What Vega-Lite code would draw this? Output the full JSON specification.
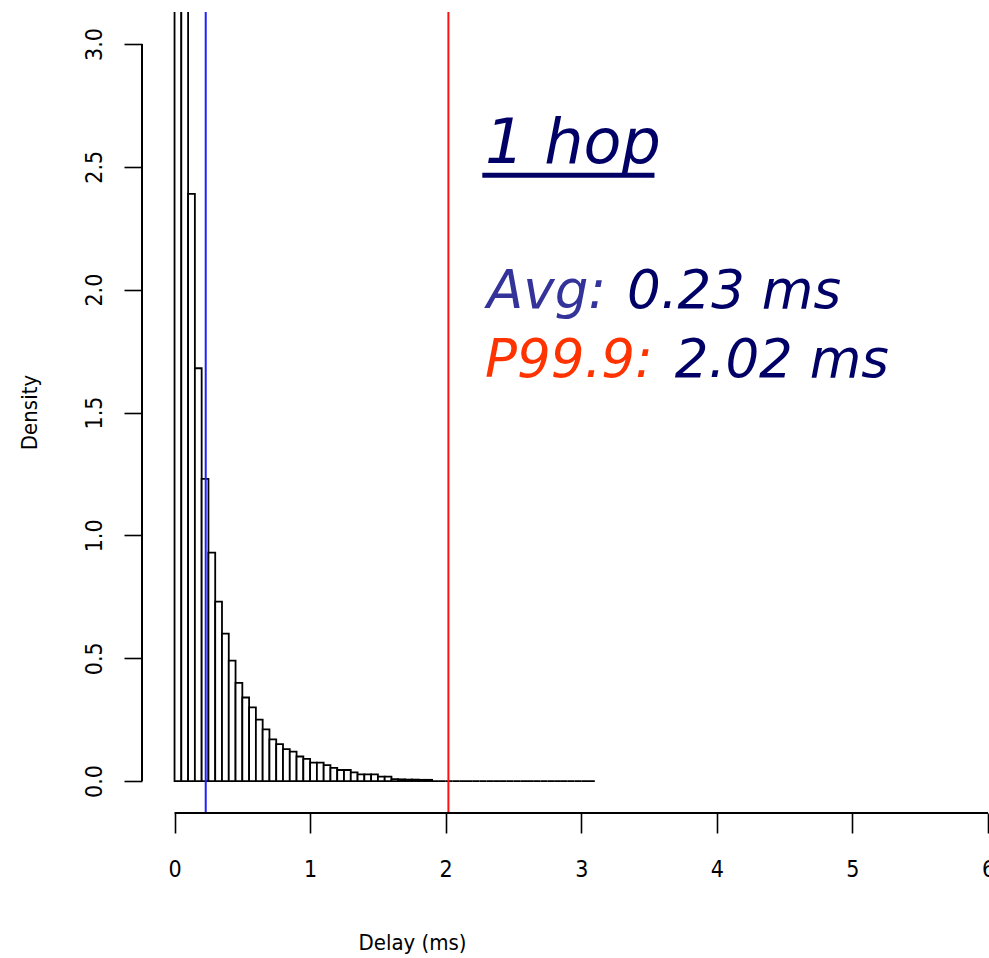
{
  "$schema": "https://vega.github.io/schema/vega-lite/v6.json",
  "autosize": "none",
  "width": 846,
  "height": 801,
  "padding": {"left": 142, "top": 12, "right": 1, "bottom": 145},
  "background": "white",
  "config": {
    "view": {"stroke": null},
    "axis": {
      "labelFont": "Liberation Sans Narrow, DejaVu Sans Condensed, Liberation Sans, sans-serif",
      "titleFont": "Liberation Sans Narrow, DejaVu Sans Condensed, Liberation Sans, sans-serif",
      "labelColor": "black",
      "titleColor": "black",
      "tickColor": "black",
      "labelFontSize": 23,
      "titleFontSize": 22,
      "titleFontWeight": "normal",
      "grid": false,
      "domain": false,
      "labelFlush": false,
      "labelOverlap": false,
      "tickWidth": 1.6
    }
  },
  "datasets": {
    "bins": [
      {"bin_start": 0.00, "bin_end": 0.05, "density": 5.0},
      {"bin_start": 0.05, "bin_end": 0.10, "density": 4.1},
      {"bin_start": 0.10, "bin_end": 0.15, "density": 2.39},
      {"bin_start": 0.15, "bin_end": 0.20, "density": 1.68},
      {"bin_start": 0.20, "bin_end": 0.25, "density": 1.23},
      {"bin_start": 0.25, "bin_end": 0.30, "density": 0.93},
      {"bin_start": 0.30, "bin_end": 0.35, "density": 0.73},
      {"bin_start": 0.35, "bin_end": 0.40, "density": 0.60},
      {"bin_start": 0.40, "bin_end": 0.45, "density": 0.49},
      {"bin_start": 0.45, "bin_end": 0.50, "density": 0.40},
      {"bin_start": 0.50, "bin_end": 0.55, "density": 0.34},
      {"bin_start": 0.55, "bin_end": 0.60, "density": 0.30},
      {"bin_start": 0.60, "bin_end": 0.65, "density": 0.25},
      {"bin_start": 0.65, "bin_end": 0.70, "density": 0.21},
      {"bin_start": 0.70, "bin_end": 0.75, "density": 0.17},
      {"bin_start": 0.75, "bin_end": 0.80, "density": 0.15},
      {"bin_start": 0.80, "bin_end": 0.85, "density": 0.13},
      {"bin_start": 0.85, "bin_end": 0.90, "density": 0.12},
      {"bin_start": 0.90, "bin_end": 0.95, "density": 0.10},
      {"bin_start": 0.95, "bin_end": 1.00, "density": 0.09},
      {"bin_start": 1.00, "bin_end": 1.05, "density": 0.075},
      {"bin_start": 1.05, "bin_end": 1.10, "density": 0.075},
      {"bin_start": 1.10, "bin_end": 1.15, "density": 0.065},
      {"bin_start": 1.15, "bin_end": 1.20, "density": 0.054},
      {"bin_start": 1.20, "bin_end": 1.25, "density": 0.045},
      {"bin_start": 1.25, "bin_end": 1.30, "density": 0.045},
      {"bin_start": 1.30, "bin_end": 1.35, "density": 0.035},
      {"bin_start": 1.35, "bin_end": 1.40, "density": 0.027},
      {"bin_start": 1.40, "bin_end": 1.45, "density": 0.027},
      {"bin_start": 1.45, "bin_end": 1.50, "density": 0.027},
      {"bin_start": 1.50, "bin_end": 1.55, "density": 0.018},
      {"bin_start": 1.55, "bin_end": 1.60, "density": 0.018},
      {"bin_start": 1.60, "bin_end": 1.65, "density": 0.008},
      {"bin_start": 1.65, "bin_end": 1.70, "density": 0.007},
      {"bin_start": 1.70, "bin_end": 1.75, "density": 0.006},
      {"bin_start": 1.75, "bin_end": 1.80, "density": 0.006},
      {"bin_start": 1.80, "bin_end": 1.85, "density": 0.005},
      {"bin_start": 1.85, "bin_end": 1.90, "density": 0.005},
      {"bin_start": 1.90, "bin_end": 1.95, "density": 0.0},
      {"bin_start": 1.95, "bin_end": 2.00, "density": 0.0},
      {"bin_start": 2.00, "bin_end": 2.05, "density": 0.0},
      {"bin_start": 2.05, "bin_end": 2.10, "density": 0.0},
      {"bin_start": 2.10, "bin_end": 2.15, "density": 0.0},
      {"bin_start": 2.15, "bin_end": 2.20, "density": 0.0},
      {"bin_start": 2.20, "bin_end": 2.25, "density": 0.0},
      {"bin_start": 2.25, "bin_end": 2.30, "density": 0.0},
      {"bin_start": 2.30, "bin_end": 2.35, "density": 0.0},
      {"bin_start": 2.35, "bin_end": 2.40, "density": 0.0},
      {"bin_start": 2.40, "bin_end": 2.45, "density": 0.0},
      {"bin_start": 2.45, "bin_end": 2.50, "density": 0.0},
      {"bin_start": 2.50, "bin_end": 2.55, "density": 0.0},
      {"bin_start": 2.55, "bin_end": 2.60, "density": 0.0},
      {"bin_start": 2.60, "bin_end": 2.65, "density": 0.0},
      {"bin_start": 2.65, "bin_end": 2.70, "density": 0.0},
      {"bin_start": 2.70, "bin_end": 2.75, "density": 0.0},
      {"bin_start": 2.75, "bin_end": 2.80, "density": 0.0},
      {"bin_start": 2.80, "bin_end": 2.85, "density": 0.0},
      {"bin_start": 2.85, "bin_end": 2.90, "density": 0.0},
      {"bin_start": 2.90, "bin_end": 2.95, "density": 0.0},
      {"bin_start": 2.95, "bin_end": 3.00, "density": 0.0},
      {"bin_start": 3.00, "bin_end": 3.05, "density": 0.0},
      {"bin_start": 3.05, "bin_end": 3.10, "density": 0.0}
    ],
    "stats": [
      {"stat": "Avg", "value": 0.23, "color": "blue"},
      {"stat": "P99.9", "value": 2.02, "color": "red"}
    ],
    "one": [{}]
  },
  "layer": [
    {
      "data": {"name": "bins"},
      "mark": {"type": "rect", "fill": "white", "stroke": "black", "strokeWidth": 1.8, "clip": true},
      "encoding": {
        "x": {
          "field": "bin_start", "type": "quantitative",
          "scale": {"domain": [-0.24, 6.0], "nice": false, "zero": false},
          "axis": {
            "values": [0, 1, 2, 3, 4, 5, 6], "format": "d",
            "tickSize": 20, "labelPadding": 25,
            "title": "Delay (ms)", "titleX": 270, "titleY": 136,
            "titleBaseline": "alphabetic"
          }
        },
        "x2": {"field": "bin_end"},
        "y": {
          "field": "density", "type": "quantitative",
          "scale": {"domain": [-0.13, 3.13], "nice": false, "zero": false},
          "axis": {
            "values": [0, 0.5, 1, 1.5, 2, 2.5, 3], "format": ".1f",
            "tickSize": 18, "labelPadding": 18, "labelAngle": 270,
            "title": "Density", "titleX": -106, "titleY": 400,
            "titleBaseline": "alphabetic", "titleAngle": 270
          }
        },
        "y2": {"datum": 0}
      }
    },
    {
      "data": {"name": "stats"},
      "mark": {"type": "rule", "strokeWidth": 2},
      "encoding": {
        "x": {"field": "value", "type": "quantitative"},
        "color": {"field": "color", "type": "nominal", "scale": {"domain": ["blue", "red"], "range": ["#2020ff", "#ff1010"]}, "legend": null}
      }
    },
    {
      "data": {"name": "one"},
      "mark": {"type": "rule", "color": "black", "strokeWidth": 2, "clip": false},
      "encoding": {"x": {"datum": -0.24}, "y": {"datum": 0}, "y2": {"datum": 3}}
    },
    {
      "data": {"name": "one"},
      "mark": {"type": "rule", "color": "black", "strokeWidth": 2, "clip": false},
      "encoding": {"x": {"datum": 0}, "x2": {"datum": 6}, "y": {"datum": -0.13}}
    },
    {
      "data": {"name": "one"},
      "mark": {"type": "text", "text": "1 hop", "align": "left", "baseline": "alphabetic", "font": "DejaVu Sans", "fontStyle": "italic", "fontSize": 62, "color": "#000066"},
      "encoding": {"x": {"datum": 2.29}, "y": {"datum": 2.515}}
    },
    {
      "data": {"name": "one"},
      "mark": {"type": "rule", "color": "#000066", "strokeWidth": 5},
      "encoding": {"x": {"datum": 2.27}, "x2": {"datum": 3.54}, "y": {"datum": 2.466}}
    },
    {
      "data": {"name": "one"},
      "mark": {"type": "text", "text": "Avg:", "align": "left", "baseline": "alphabetic", "font": "DejaVu Sans", "fontStyle": "italic", "fontSize": 53, "color": "#333399"},
      "encoding": {"x": {"datum": 2.305}, "y": {"datum": 1.925}}
    },
    {
      "data": {"name": "one"},
      "mark": {"type": "text", "text": "0.23 ms", "align": "left", "baseline": "alphabetic", "font": "DejaVu Sans", "fontStyle": "italic", "fontSize": 53, "color": "#000066"},
      "encoding": {"x": {"datum": 3.337}, "y": {"datum": 1.925}}
    },
    {
      "data": {"name": "one"},
      "mark": {"type": "text", "text": "P99.9:", "align": "left", "baseline": "alphabetic", "font": "DejaVu Sans", "fontStyle": "italic", "fontSize": 53, "color": "#ff3300"},
      "encoding": {"x": {"datum": 2.29}, "y": {"datum": 1.644}}
    },
    {
      "data": {"name": "one"},
      "mark": {"type": "text", "text": "2.02 ms", "align": "left", "baseline": "alphabetic", "font": "DejaVu Sans", "fontStyle": "italic", "fontSize": 53, "color": "#000066"},
      "encoding": {"x": {"datum": 3.69}, "y": {"datum": 1.644}}
    }
  ]
}
